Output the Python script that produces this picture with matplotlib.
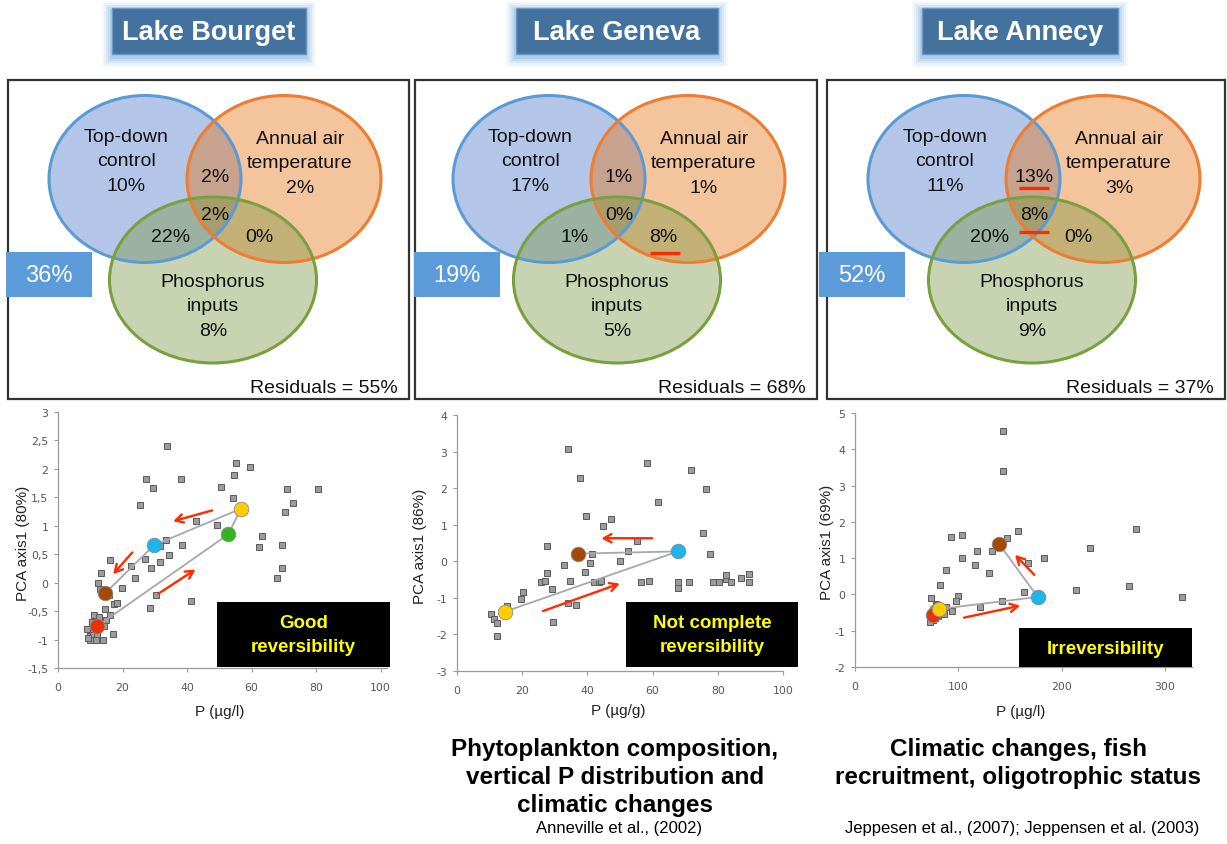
import matplotlib
matplotlib.use('Agg')
import matplotlib.pyplot as plt
from matplotlib.patches import Ellipse, Rectangle
from matplotlib.ticker import FuncFormatter

plt.rcParams['axes.unicode_minus'] = False

W, H = 1227, 845
fig = plt.figure(figsize=(W / 100, H / 100), dpi=100)
FONT = 'Liberation Sans'

# ---------------- data ----------------
lakes = ['Lake Bourget', 'Lake Geneva', 'Lake Annecy']
venn_top_down = [10, 17, 11]
venn_air_temp = [2, 1, 3]
venn_phosphorus = [8, 5, 9]
venn_td_at = [2, 1, 13]
venn_all = [2, 0, 8]
venn_td_p = [22, 1, 20]
venn_at_p = [0, 8, 0]
explained = [36, 19, 52]
residuals = [55, 68, 37]
underlined = [[], ['at_p'], ['td_at', 'all']]

# Lake Bourget scatter
bourget_p = [33.8, 55.1, 59.5, 27.3, 38.1, 54.7, 29.6, 50.4, 71.0, 80.5, 25.3, 54.3, 72.9, 70.4,
             42.7, 49.4, 63.1, 62.3, 33.5, 31.7, 38.3, 69.3, 16.1, 27.1, 31.7, 34.5, 22.6, 28.7,
             69.5, 13.3, 23.9, 67.8, 12.3, 13.1, 19.8, 15.8, 30.4, 41.3, 17.5, 18.3, 14.7, 28.6,
             16.2, 14.8, 11.3, 12.8, 10.5, 14.2, 12.2, 9.8, 9.0, 10.0, 10.9, 12.2, 17.1, 10.0,
             11.7, 13.9, 9.2]
bourget_pca = [2.41, 2.11, 2.03, 1.82, 1.82, 1.89, 1.66, 1.69, 1.64, 1.64, 1.37, 1.48, 1.40, 1.24,
               1.08, 1.01, 0.82, 0.62, 0.75, 0.64, 0.67, 0.67, 0.40, 0.42, 0.36, 0.48, 0.29, 0.25,
               0.25, 0.17, 0.08, 0.08, -0.01, -0.12, -0.09, -0.22, -0.22, -0.32, -0.37, -0.36, -0.46, -0.45,
               -0.57, -0.66, -0.57, -0.61, -0.70, -0.76, -0.81, -0.85, -0.81, -0.94, -0.92, -0.94, -0.90, -1.01,
               -1.00, -1.01, -0.97]
bourget_path_p = [12.0, 52.8, 56.7, 29.8, 14.7]
bourget_path_pca = [-0.77, 0.85, 1.30, 0.66, -0.18]
bourget_path_colors = ['#E8300A', '#33B520', '#FFCC00', '#1EB4EC', '#A34A05']
bourget_arrows = [((47.8, 1.27), (35.7, 1.08)), ((23.0, 0.53), (17.1, 0.15)), ((31.2, -0.19), (42.6, 0.23))]

# Lake Geneva scatter
geneva_p = [34.0, 58.3, 37.6, 71.7, 76.5, 61.7, 39.7, 47.3, 44.8, 75.5, 55.2, 27.6, 52.4, 41.4,
            77.5, 49.9, 32.8, 40.9, 27.6, 39.2, 25.9, 26.9, 34.6, 42.0, 43.5, 44.2, 56.5, 58.8,
            67.7, 67.7, 71.1, 78.5, 80.5, 82.5, 82.5, 84.0, 87.0, 89.5, 89.5, 20.2, 19.7, 29.2,
            34.0, 36.6, 29.4, 15.4, 10.3, 11.2, 12.3, 12.3]
geneva_pca = [3.07, 2.70, 2.28, 2.50, 1.97, 1.61, 1.23, 1.15, 0.96, 0.77, 0.56, 0.41, 0.29, 0.20,
              0.19, 0.01, -0.09, -0.05, -0.32, -0.30, -0.56, -0.54, -0.53, -0.56, -0.56, -0.55, -0.56, -0.54,
              -0.56, -0.72, -0.57, -0.57, -0.57, -0.48, -0.38, -0.57, -0.47, -0.36, -0.57, -0.85, -1.04, -0.76,
              -1.13, -1.19, -1.66, -1.22, -1.43, -1.58, -1.69, -2.04]
geneva_path_p = [14.6, 67.8, 37.1]
geneva_path_pca = [-1.38, 0.27, 0.21]
geneva_path_colors = ['#FFCC00', '#1EB4EC', '#A34A05']
geneva_arrows = [((59.9, 0.63), (44.3, 0.63)), ((26.4, -1.36), (49.9, -0.61))]

# Lake Annecy scatter
annecy_p = [143.5, 143.5, 92.9, 103.2, 157.4, 146.8, 271.9, 227.4, 117.7, 132.3, 103.9, 183.2,
            116.1, 167.7, 130.0, 87.7, 82.6, 163.9, 213.9, 264.8, 316.5, 141.9, 121.0, 100.0,
            97.7, 73.9, 93.5, 88.0, 78.0, 80.0, 76.0, 74.0, 75.0, 73.0, 77.0, 85.0, 83.0,
            86.0, 80.0, 79.0]
annecy_pca = [4.50, 3.39, 1.57, 1.65, 1.75, 1.56, 1.80, 1.29, 1.19, 1.19, 1.00, 1.00,
              0.80, 0.86, 0.60, 0.67, 0.25, 0.06, 0.11, 0.24, -0.06, -0.17, -0.36, -0.04,
              -0.17, -0.10, -0.45, -0.35, -0.25, -0.35, -0.45, -0.55, -0.70, -0.75, -0.65, -0.50, -0.40,
              -0.55, -0.60, -0.30]
annecy_path_p = [81.6, 176.8, 139.4]
annecy_path_pca = [-0.40, -0.07, 1.39]
annecy_path_colors = ['#FFCC00', '#1EB4EC', '#A34A05']
annecy_extra_p = [78.4, 75.2]
annecy_extra_pca = [-0.47, -0.57]
annecy_extra_colors = ['#33B520', '#E8300A']
annecy_arrows = [((105.5, -0.64), (159.7, -0.31)), ((173.5, 0.54), (154.8, 1.09))]

y_labels = ['PCA axis1 (80%)', 'PCA axis1 (86%)', 'PCA axis1 (69%)']
x_labels = ['P (µg/l)', 'P (µg/g)', 'P (µg/l)']
verdicts = [['Good', 'reversibility'], ['Not complete', 'reversibility'], ['Irreversibility']]
drivers = [[], ['Phytoplankton composition,', 'vertical P distribution and', 'climatic changes'],
           ['Climatic changes, fish', 'recruitment, oligotrophic status']]
refs = ['', 'Anneville et al., (2002)', 'Jeppesen et al., (2007); Jeppensen et al. (2003)']


def fig_rect(x0, y0, x1, y1):
    return [x0 / W, 1 - y1 / H, (x1 - x0) / W, (y1 - y0) / H]


def style_axes(ax, xlim, ylim, xticks, yticks, comma=False):
    ax.set_xlim(*xlim)
    ax.set_ylim(*ylim)
    ax.set_xticks(xticks)
    ax.set_yticks(yticks)
    for s in ['top', 'right']:
        ax.spines[s].set_visible(False)
    for s in ['left', 'bottom']:
        ax.spines[s].set_color('#9a9a9a')
        ax.spines[s].set_linewidth(0.9)
    ax.tick_params(axis='both', colors='#9a9a9a', length=3, width=0.8, labelcolor='#555555',
                   labelsize=7.8)
    ax.tick_params(axis='x', pad=7)
    ax.tick_params(axis='y', pad=4)
    for lab in ax.get_xticklabels() + ax.get_yticklabels():
        lab.set_fontfamily('DejaVu Sans')
    if comma:
        ax.yaxis.set_major_formatter(FuncFormatter(
            lambda v, p: ('%g' % v).replace('.', ',')))
    ax.patch.set_alpha(0)


def draw_scatter(ax, px, py, path_x, path_y, path_c, arrows, extra=None):
    ax.plot(px, py, linestyle='none', marker='s', markersize=4.2, markerfacecolor='#9c9c9c',
            markeredgecolor='#5a5a5a', markeredgewidth=0.7, zorder=2)
    ax.plot(path_x, path_y, color='#a8a8a8', lw=1.3, zorder=3)
    if extra is not None:
        ex, ey, ec = extra
        for x, y, c in zip(ex, ey, ec):
            ax.plot([x], [y], marker='o', markersize=10.5, markerfacecolor=c,
                    markeredgecolor='#8a8a8a', markeredgewidth=0.6, zorder=4, linestyle='none')
    for x, y, c in zip(path_x, path_y, path_c):
        ax.plot([x], [y], marker='o', markersize=10.5, markerfacecolor=c,
                markeredgecolor='#8a8a8a', markeredgewidth=0.6, zorder=4, linestyle='none')
    for (s, e) in arrows:
        ax.annotate('', xy=e, xytext=s,
                    arrowprops=dict(arrowstyle='->,head_length=0.55,head_width=0.3',
                                    color='#FF2A00', lw=1.7, shrinkA=0, shrinkB=0), zorder=5)


ax1 = fig.add_axes(fig_rect(58, 413, 387, 669))
style_axes(ax1, (0, 102), (-1.5, 3), [0, 20, 40, 60, 80, 100],
           [-1.5, -1, -0.5, 0, 0.5, 1, 1.5, 2, 2.5, 3], comma=True)
draw_scatter(ax1, bourget_p, bourget_pca, bourget_path_p, bourget_path_pca,
             bourget_path_colors, bourget_arrows)

ax2 = fig.add_axes(fig_rect(457, 416, 783, 672))
style_axes(ax2, (0, 100), (-3, 4), [0, 20, 40, 60, 80, 100], [-3, -2, -1, 0, 1, 2, 3, 4])
draw_scatter(ax2, geneva_p, geneva_pca, geneva_path_p, geneva_path_pca,
             geneva_path_colors, geneva_arrows)

ax3 = fig.add_axes(fig_rect(855, 414, 1192, 668))
style_axes(ax3, (0, 326), (-2, 5), [0, 100, 200, 300], [-2, -1, 0, 1, 2, 3, 4, 5])
draw_scatter(ax3, annecy_p, annecy_pca, annecy_path_p, annecy_path_pca,
             annecy_path_colors, annecy_arrows,
             extra=(annecy_extra_p, annecy_extra_pca, annecy_extra_colors))

# ---------------- overlay (pixel coordinates) ----------------
ov = fig.add_axes([0, 0, 1, 1], zorder=10)
ov.set_xlim(0, W)
ov.set_ylim(H, 0)
ov.axis('off')
ov.patch.set_alpha(0)

# titles
title_boxes = [(112, 306), (516, 718), (922, 1118)]
for name, (x0, x1) in zip(lakes, title_boxes):
    y0, y1 = 9, 55
    for pad, a in [(10, 0.08), (8, 0.12), (6, 0.18), (4, 0.26), (2, 0.38)]:
        ov.add_patch(Rectangle((x0 - pad, y0 - pad + 3), x1 - x0 + 2 * pad, y1 - y0 + 2 * pad,
                               facecolor='#8FB8E3', edgecolor='none', alpha=a, zorder=1))
    ov.add_patch(Rectangle((x0, y0), x1 - x0, y1 - y0, facecolor='#44729F',
                           edgecolor='#6C95C4', lw=1, zorder=2))
    ov.text((x0 + x1) / 2, (y0 + y1) / 2 + 1, name, ha='center', va='center', color='white',
            fontsize=19.5, fontweight='bold', family=FONT, zorder=3)

# venn panels
panel_boxes = [(8, 409), (415, 817), (827, 1225)]
panel_dx = [0, 404, 819]
expl_x = [6, 414, 819]
ul_pos = {'td_at': (215, 189), 'all': (215, 233), 'at_p': (261, 254)}
for i in range(3):
    bx0, bx1 = panel_boxes[i]
    ov.add_patch(Rectangle((bx0, 81), bx1 - bx0, 319, facecolor='white', edgecolor='#333333',
                           lw=1.6, zorder=1))
    dx = panel_dx[i]
    ov.add_patch(Ellipse((145 + dx, 180), 192, 167, facecolor='#4472C4', alpha=0.4,
                         edgecolor='none', zorder=2))
    ov.add_patch(Ellipse((145 + dx, 180), 192, 167, facecolor='none', edgecolor='#5B9BD5',
                         lw=2.2, zorder=3))
    ov.add_patch(Ellipse((284 + dx, 180), 194, 167, facecolor='#E46C0A', alpha=0.4,
                         edgecolor='none', zorder=2))
    ov.add_patch(Ellipse((284 + dx, 180), 194, 167, facecolor='none', edgecolor='#ED7D31',
                         lw=2.2, zorder=3))
    ov.add_patch(Ellipse((213 + dx, 281), 207, 166, facecolor='#77933C', alpha=0.4,
                         edgecolor='none', zorder=2))
    ov.add_patch(Ellipse((213 + dx, 281), 207, 166, facecolor='none', edgecolor='#79A03F',
                         lw=2.2, zorder=3))
    kw = dict(ha='center', va='center', fontsize=14, family=FONT, color='#111111', zorder=5,
              linespacing=1.58)
    ov.text(126 + dx, 162, 'Top-down\ncontrol\n%d%%' % venn_top_down[i], **kw)
    ov.text(300 + dx, 164, 'Annual air\ntemperature\n%d%%' % venn_air_temp[i], **kw)
    ov.text(213 + dx, 307, 'Phosphorus\ninputs\n%d%%' % venn_phosphorus[i], **kw)
    ov.text(215 + dx, 177, '%d%%' % venn_td_at[i], **kw)
    ov.text(215 + dx, 216, '%d%%' % venn_all[i], **kw)
    ov.text(171 + dx, 238, '%d%%' % venn_td_p[i], **kw)
    ov.text(259 + dx, 238, '%d%%' % venn_at_p[i], **kw)
    for key in underlined[i]:
        cx, cy = ul_pos[key]
        ov.plot([cx + dx - 15, cx + dx + 15], [cy, cy], color='#FF2A00', lw=2.4,
                solid_capstyle='butt', zorder=6)
    ov.add_patch(Rectangle((expl_x[i], 253), 86, 45, facecolor='#5B9BD9', edgecolor='none',
                           zorder=6))
    ov.text(expl_x[i] + 43, 276, '%d%%' % explained[i], ha='center', va='center',
            color='white', fontsize=17, family=FONT, zorder=7)
    ov.text(bx1 - 11, 389, 'Residuals = %d%%' % residuals[i], ha='right', va='center',
            fontsize=14, family=FONT, color='#111111', zorder=5)

# axis labels
ylab_pos = [(23, 543), (420, 546), (827, 542)]
xlab_pos = [(220, 712), (618, 711), (1021, 712)]
for i in range(3):
    ov.text(*ylab_pos[i], y_labels[i], rotation=90, ha='center', va='center', fontsize=11,
            family=FONT, color='#222222')
    ov.text(*xlab_pos[i], x_labels[i], ha='center', va='center', fontsize=11,
            family=FONT, color='#222222')

# verdict boxes
verdict_boxes = [(217, 603, 390, 668), (626, 603, 798, 668), (1019, 629, 1192, 668)]
for i, (x0, y0, x1, y1) in enumerate(verdict_boxes):
    ov.add_patch(Rectangle((x0, y0), x1 - x0, y1 - y0, facecolor='black', edgecolor='none',
                           zorder=8))
    lines = verdicts[i]
    cy = (y0 + y1) / 2
    if len(lines) == 2:
        ys = [cy - 12, cy + 12]
    else:
        ys = [cy + 1]
    for t, y in zip(lines, ys):
        ov.text((x0 + x1) / 2, y, t, ha='center', va='center', color='#FFFF00',
                fontsize=13.5, fontweight='bold', family=FONT, zorder=9)

# drivers & references
driver_x = [0, 615, 1018]
for i in range(3):
    for j, t in enumerate(drivers[i]):
        ov.text(driver_x[i], 750 + 28 * j, t, ha='center', va='center', fontsize=17.5,
                fontweight='bold', family=FONT, color='black')
ov.text(619, 829, refs[1], ha='center', va='center', fontsize=12, family=FONT, color='black')
ov.text(1022, 829, refs[2], ha='center', va='center', fontsize=12, family=FONT, color='black')

fig.savefig('out.png', dpi=100)
